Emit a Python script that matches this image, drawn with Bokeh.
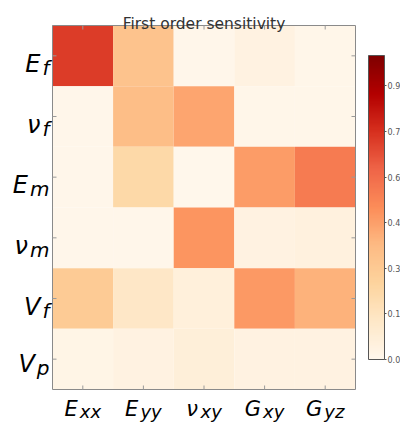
import numpy as np
from bokeh.plotting import figure
from bokeh.models import ColumnDataSource, LinearColorMapper, ColorBar, FixedTicker
from bokeh.core.properties import value
from bokeh.palettes import OrRd9
from bokeh.embed import file_html
from bokeh.resources import INLINE

# ---- data ----
inputs = ["E", "ν", "E", "ν", "V", "V"]          # row label symbols (top to bottom)
input_subs = ["f", "f", "m", "m", "f", "p"]       # row label subscripts
outputs = ["E", "E", "ν", "G", "G"]               # column label symbols
output_subs = ["xx", "yy", "xy", "xy", "yz"]      # column label subscripts

row_Ef = [0.72, 0.335, 0.01, 0.04, 0.015]
row_nuf = [0.01, 0.36, 0.435, 0.015, 0.015]
row_Em = [0.01, 0.22, 0.005, 0.46, 0.556]
row_num = [0.01, 0.008, 0.48, 0.04, 0.05]
row_Vf = [0.295, 0.13, 0.06, 0.465, 0.40]
row_Vp = [0.02, 0.04, 0.07, 0.04, 0.04]
rows = [row_Ef, row_nuf, row_Em, row_num, row_Vf, row_Vp]

cb_ticks = [0.0, 0.15, 0.3, 0.45, 0.6, 0.75, 0.9]
cb_labels = ["0.0", "0.1", "0.3", "0.4", "0.6", "0.7", "0.9"]

title_text = "First order sensitivity"

# ---- palette (matplotlib OrRd: linear through the 9 ColorBrewer stops) ----
stops = list(reversed(OrRd9))
def hex2rgb(h):
    return np.array([int(h[i:i + 2], 16) for i in (1, 3, 5)], dtype=float)
stop_rgb = np.array([hex2rgb(c) for c in stops])
pos = np.linspace(0, 1, len(stops))
palette = []
for v in np.linspace(0, 1, 256):
    rgb = [np.interp(v, pos, stop_rgb[:, k]) for k in range(3)]
    palette.append("#%02x%02x%02x" % tuple(int(round(c)) for c in rgb))
mapper = LinearColorMapper(palette=palette, low=0.0, high=1.0)

# ---- layout (pixels) ----
W, H = 400, 425
left_px, top_px, frame_w, frame_h = 52, 25, 303, 364
n_rows, n_cols = len(rows), len(outputs)
ux = frame_w / n_cols
uy = frame_h / n_rows
x0 = -0.5 - left_px / ux
x1 = n_cols - 0.5 + (W - left_px - frame_w) / ux
y0 = -0.5 - (H - top_px - frame_h) / uy
y1 = n_rows - 0.5 + top_px / uy

p = figure(width=W, height=H, x_range=(x0, x1), y_range=(y0, y1),
           output_backend="svg", toolbar_location=None, tools="",
           min_border=0)
p.axis.visible = False
p.grid.visible = False
p.outline_line_color = None
p.background_fill_color = "white"
p.border_fill_color = "white"

xs, ys, vals = [], [], []
for i, r in enumerate(rows):
    for j, v in enumerate(r):
        xs.append(j)
        ys.append(n_rows - 1 - i)
        vals.append(v)
src = ColumnDataSource(dict(x=xs, y=ys, v=vals))
p.rect(x="x", y="y", width=1, height=1, source=src,
       fill_color={"field": "v", "transform": mapper}, line_color=None)

# frame outline around the heat map
p.quad(left=[-0.5], right=[n_cols - 0.5], bottom=[-0.5], top=[n_rows - 0.5],
       fill_color=None, line_color="#8a8a8a", line_width=1)

# inward ticks on all four edges
col_idx = list(range(n_cols))
row_idx = list(range(n_rows))
tick_kw = dict(length=4, length_units="screen", line_color="#9a9a9a", line_width=1)
p.ray(x=col_idx, y=[-0.5] * n_cols, angle=np.pi / 2, **tick_kw)
p.ray(x=col_idx, y=[n_rows - 0.5] * n_cols, angle=-np.pi / 2, **tick_kw)
p.ray(x=[-0.5] * n_rows, y=row_idx, angle=0, **tick_kw)
p.ray(x=[n_cols - 0.5] * n_rows, y=row_idx, angle=np.pi, **tick_kw)

# ---- math-style labels (italic symbol + italic subscript) ----
adv = {"E": 0.632, "ν": 0.592, "V": 0.684, "G": 0.775, "f": 0.352, "m": 0.974,
       "p": 0.635, "x": 0.592, "y": 0.592, "z": 0.525}
def width(s, size):
    return sum(adv[c] for c in s) * size
FONT = value("DejaVu Sans")

ym, ysub = 24, 20
gap = 2
mx, my, mxo, myo, mt = [], [], [], [], []
sx, sy, sxo, syo, st = [], [], [], [], []
for i, (m, s) in enumerate(zip(inputs, input_subs)):
    yc = n_rows - 1 - i
    has_desc = any(c in "py" for c in s)
    base = 5 if has_desc else 8
    mx.append(-0.5); my.append(yc); mxo.append(-3 - width(s, ysub) - gap); myo.append(base); mt.append(m)
    sx.append(-0.5); sy.append(yc); sxo.append(-3); syo.append(base + 4); st.append(s)
p.text(x=mx, y=my, x_offset=mxo, y_offset=myo, text=mt, text_align="right",
       text_baseline="alphabetic", text_font=FONT, text_font_style="italic",
       text_font_size=f"{ym}px", text_color="black")
p.text(x=sx, y=sy, x_offset=sxo, y_offset=syo, text=st, text_align="right",
       text_baseline="alphabetic", text_font=FONT, text_font_style="italic",
       text_font_size=f"{ysub}px", text_color="black")

xm, xsub = 21, 18
mx, my, mxo, myo, mt = [], [], [], [], []
sx, sy, sxo, syo, st = [], [], [], [], []
for j, (m, s) in enumerate(zip(outputs, output_subs)):
    mw = width(m, xm)
    w = mw + gap + width(s, xsub)
    mx.append(j); my.append(-0.5); mxo.append(-w / 2); myo.append(19); mt.append(m)
    sx.append(j); sy.append(-0.5); sxo.append(-w / 2 + mw + gap); syo.append(22); st.append(s)
p.text(x=mx, y=my, x_offset=mxo, y_offset=myo, text=mt, text_align="left",
       text_baseline="alphabetic", text_font=FONT, text_font_style="italic",
       text_font_size=f"{xm}px", text_color="black")
p.text(x=sx, y=sy, x_offset=sxo, y_offset=syo, text=st, text_align="left",
       text_baseline="alphabetic", text_font=FONT, text_font_style="italic",
       text_font_size=f"{xsub}px", text_color="black")

# title
p.text(x=[(n_cols - 1) / 2], y=[n_rows - 0.5], y_offset=[-2], text=[title_text],
       text_align="center", text_baseline="alphabetic", text_font=FONT,
       text_font_size="15.5px", text_color="#333333")

# colour bar
bar_h = 304
cb = ColorBar(color_mapper=mapper, width=16, height=bar_h,
              ticker=FixedTicker(ticks=cb_ticks),
              major_label_overrides={t_: l for t_, l in zip(cb_ticks, cb_labels)},
              major_label_text_font_size="8px", major_label_text_color="#555555",
              major_label_text_font="DejaVu Sans",
              major_tick_in=0, major_tick_out=2, major_tick_line_color="#555555",
              minor_tick_line_color=None,
              label_standoff=1, bar_line_color="#555555", bar_line_width=1,
              border_line_color=None, background_fill_color=None,
              padding=0, margin=0,
              location=(368, H - (top_px + frame_h / 2 + bar_h / 2)))
p.add_layout(cb, "center")

open("out.html", "w").write(file_html(p, INLINE))
